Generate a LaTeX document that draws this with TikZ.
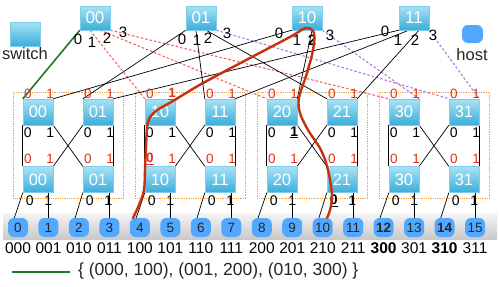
\documentclass[tikz,border=0pt]{standalone}
\usepackage{fontspec}
\setmainfont{Liberation Sans}
\usetikzlibrary{calc}
\pgfdeclarelayer{back}
\pgfdeclarelayer{bg}
\pgfdeclarelayer{front}
\pgfsetlayers{back,bg,main,front}
\definecolor{swtop}{HTML}{A8E2F6}
\definecolor{swbot}{HTML}{3AAEDA}
\definecolor{swedge}{HTML}{80CDEA}
\definecolor{hostblue}{HTML}{52A7FF}
\definecolor{portred}{HTML}{E0301E}
\definecolor{dashred}{HTML}{F06464}
\definecolor{dashpurple}{HTML}{B478E6}
\definecolor{podorange}{HTML}{F5A040}
\definecolor{pathred}{HTML}{C8300E}
\definecolor{legendgreen}{HTML}{1E7A28}
\newcommand\bu[1]{\underline{\textbf{#1}}}
\tikzset{
  topsw/.style={rectangle, minimum width=30pt, minimum height=24pt, inner sep=0pt,
    top color=swtop, bottom color=swbot, draw=swedge, line width=0.4pt, text=white,
    font=\fontsize{17}{17}\selectfont},
  podsw/.style={topsw, minimum height=26pt, font=\fontsize{16.5}{16.5}\selectfont},
  hostnode/.style={rectangle, rounded corners=6pt, minimum width=20pt, minimum height=19pt,
    inner sep=0pt, fill=hostblue, text=black!85, font=\fontsize{13.5}{13.5}\selectfont},
  redlab/.style={inner sep=0pt, text=portred, font=\fontsize{13.5}{13.5}\selectfont},
  blklab/.style={inner sep=0pt, text=black, font=\fontsize{14}{14}\selectfont},
  toplab/.style={inner sep=0pt, text=black, font=\fontsize{15}{15}\selectfont},
  addr/.style={inner sep=0pt, text=black, font=\fontsize{15.5}{15.5}\selectfont},
  legtext/.style={inner sep=0pt, text=black!85, font=\fontsize{16.5}{16.5}\selectfont},
  blk/.style={draw=black, line width=0.7pt},
  reddash/.style={draw=dashred, line width=1.1pt, dash pattern=on 2.5pt off 2pt},
  purpdash/.style={draw=dashpurple, line width=1.1pt, dash pattern=on 2.5pt off 2pt},
  greenline/.style={draw=legendgreen, line width=1.6pt},
  podbox/.style={draw=podorange, line width=0.7pt, dash pattern=on 0.8pt off 1pt},
  hlpath/.style={draw=pathred, line width=2.4pt, line cap=round, line join=round}
}
\begin{document}
\begin{tikzpicture}[x=1pt,y=-1pt]
\useasboundingbox (0,0) rectangle (499,287);

% background and host band
\begin{pgfonlayer}{back}
\fill[white] (0,0) rectangle (499,287);
\shade[top color=gray!8, bottom color=gray!42] (3,213) rectangle (497,239);
\end{pgfonlayer}

% legend
\node[topsw] (legsw) at (25,34) {};
\node[legtext] (legswt) at (25,54) {switch};
\node[hostnode, minimum width=21pt, minimum height=18pt] (leghost) at (472.5,34) {};
\node[legtext] (leghostt) at (472,55) {host};

% top switches
\node[topsw] (t00) at (95,18) {00};
\node[topsw] (t01) at (201,18) {01};
\node[topsw] (t10) at (307,18) {10};
\node[topsw] (t11) at (414,18) {11};
\foreach \tn in {00,01,10,11}{
  \foreach \k in {0,...,3}{
    \coordinate (t\tn p\k) at ($(t\tn.south west)!{\k/3}!(t\tn.south east)$);
  }
}

% top port labels
\node[toplab] at (78,39) {0};  \node[toplab] at (92,42) {1};
\node[toplab] at (107,38) {2}; \node[toplab] at (123,32) {3};
\node[toplab] at (182,39) {0}; \node[toplab] at (197,40) {1};
\node[toplab] at (208,38) {2}; \node[toplab] at (227,33) {3};
\node[toplab] at (279,33) {0}; \node[toplab] at (297,40) {1};
\node[toplab] at (312,40) {\textbf{2}}; \node[toplab] at (330,35) {3};
\node[toplab] at (385,31) {0}; \node[toplab] at (398,40) {1};
\node[toplab] at (415,40) {2}; \node[toplab] at (433,35) {3};

% pods
\foreach \p in {0,1,2,3}{
  \pgfmathsetmacro\L{13+122*\p}
  \begin{pgfonlayer}{bg}
    \draw[podbox] (\L,92) rectangle ++(110,106);
  \end{pgfonlayer}
  \node[podsw] (u\p0) at (\L+25,112) {\p0};
  \node[podsw] (u\p1) at (\L+85,112) {\p1};
  \node[podsw] (l\p0) at (\L+25,179.5) {\p0};
  \node[podsw] (l\p1) at (\L+85,179.5) {\p1};
}

% hosts
\foreach \i in {0,...,11,13,15}{
  \node[hostnode] (h\i) at ({18+30.47*\i},227.5) {\i};
}
\node[hostnode] (h12) at ({18+30.47*12},227.5) {\textbf{12}};
\node[hostnode] (h14) at ({18+30.47*14},227.5) {\textbf{14}};

% addresses
\foreach \i/\a in {0/000,1/001,2/010,3/011,4/100,5/101,6/110,7/111,8/200,9/201,10/210,11/211,13/301,15/311}{
  \node[addr] (a\i) at (h\i |- 0,248) {\a};
}
\node[addr] (a12) at (h12 |- 0,248) {\textbf{300}};
\node[addr] (a14) at (h14 |- 0,248) {\textbf{310}};

% pod internal links, host links and port labels
\foreach \p in {0,...,3}{
  \begin{pgfonlayer}{bg}
    \draw[blk] (u\p0.south west) -- (l\p0.north west);
    \draw[blk] (u\p0.south east) -- (l\p1.north west);
    \draw[blk] (u\p1.south west) -- (l\p0.north east);
    \draw[blk] (u\p1.south east) -- (l\p1.north east);
  \end{pgfonlayer}
  \foreach \s in {0,1}{
    \pgfmathtruncatemacro\ha{4*\p+2*\s}
    \pgfmathtruncatemacro\hb{4*\p+2*\s+1}
    \begin{pgfonlayer}{bg}
      \draw[blk] (l\p\s.south west) -- ($(h\ha.north)+(-5,4)$);
      \draw[blk] (h\hb.north |- l\p\s.south) -- (h\hb.north);
    \end{pgfonlayer}
    \node[redlab] at ($(u\p\s.north west)+(5,-5)$) {0};
    \node[redlab] at ($(u\p\s.north east)+(-3,-5)$) {\ifnum\p\s=10 \bu{1}\else 1\fi};
    \node[blklab] at ($(u\p\s.south west)+(5,7)$) {0};
    \node[blklab] at ($(u\p\s.south east)+(-3,7)$) {\ifnum\p\s=20 \bu{1}\else 1\fi};
    \node[redlab] at ($(l\p\s.north west)+(5,-7)$) {\ifnum\p\s=10 \bu{0}\else 0\fi};
    \node[redlab] at ($(l\p\s.north east)+(-3,-7)$) {1};
    \node[blklab] at ($(l\p\s.south west)+(7,8)$) {\ifnum\p\s=21 \bu{0}\else 0\fi};
    \node[blklab] at ($(l\p\s.south east)+(-5,8)$) {1};
  }
}

% top-level links
\begin{pgfonlayer}{bg}
  \draw[reddash] (t00p1) -- (u10.north west);
  \draw[reddash] (t00p2) -- (u20.north west);
  \draw[reddash] (t00p3) -- (u30.north west);
  \draw[blk] (t01p0) -- (u01.north west);
  \draw[blk] (t01p1) -- (u11.north west);
  \draw[blk] (t01p2) -- (u21.north west);
  \draw[purpdash] (t01p3) -- (u31.north west);
  \draw[blk] (t10p0) -- (u00.north east);
  \draw[blk] (t10p1) -- (u10.north east);
  \draw[blk] (t10p2) -- (u20.north east);
  \draw[purpdash] (t10p3) -- (u30.north east);
  \draw[blk] (t11p0) -- (u01.north east);
  \draw[blk] (t11p1) -- (u11.north east);
  \draw[blk] (t11p2) -- (u21.north east);
  \draw[purpdash] (t11p3) -- (u31.north east);
  \draw[greenline] (t00p0) -- (u00.north west);
\end{pgfonlayer}

% highlighted path
\begin{pgfonlayer}{front}
\draw[hlpath] plot[smooth, tension=0.55] coordinates {
  (133,218) (139,205) (144,190) (145,170) (146,147) (148,122) (156,111)
  (173,101) (203,83) (250,58) (290,37) (306,28) (314,33) (313,50)
  (307,73) (299,98) (300,113) (308,130) (321,150) (328,170) (332,195)
  (330,210) (327,218)};
\end{pgfonlayer}

% legend line
\coordinate (lg1) at (12,272);
\coordinate (lg2) at (70,272);
\draw[greenline, line width=2pt] (lg1) -- (lg2);
\node[legtext, anchor=west, font=\fontsize{17.5}{17.5}\selectfont] (legt) at (78,271) {\{ (000, 100), (001, 200), (010, 300) \}};
\end{tikzpicture}
\end{document}
